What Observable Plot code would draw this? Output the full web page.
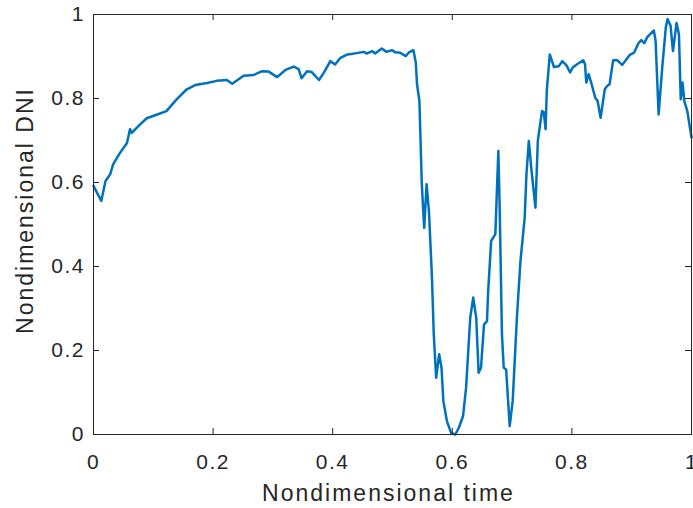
<!DOCTYPE html>
<html>
<head>
<meta charset="utf-8">
<script src="https://cdn.jsdelivr.net/npm/d3@7"></script>
<script src="https://cdn.jsdelivr.net/npm/@observablehq/plot@0.6"></script>
<style>
  html, body { margin: 0; padding: 0; background: #fff; }
  svg { display: block; font-family: "Liberation Sans", Arial, sans-serif; }
  svg g[aria-label="x-axis tick label"] text,
  svg g[aria-label="y-axis tick label"] text { letter-spacing: 1.5px; }
  svg g.axis-title text { letter-spacing: 2px; }
</style>
</head>
<body>
<div id="chart"></div>
<script>
const timeValues = [
  0.000, 0.013, 0.020, 0.028, 0.033, 0.044, 0.056, 0.061, 0.064, 0.075,
  0.089, 0.103, 0.122, 0.139, 0.156, 0.170, 0.190, 0.206, 0.223, 0.232,
  0.251, 0.268, 0.282, 0.293, 0.307, 0.321, 0.335, 0.343, 0.348, 0.357,
  0.365, 0.377, 0.385, 0.396, 0.404, 0.413, 0.423, 0.440, 0.452, 0.457,
  0.466, 0.471, 0.482, 0.490, 0.499, 0.505, 0.513, 0.522, 0.527, 0.535,
  0.539, 0.541, 0.545, 0.549, 0.553, 0.557, 0.561, 0.566, 0.569, 0.573,
  0.578, 0.582, 0.585, 0.591, 0.598, 0.605, 0.611, 0.618, 0.623, 0.630,
  0.635, 0.640, 0.644, 0.648, 0.653, 0.658, 0.660, 0.665, 0.672, 0.677,
  0.679, 0.683, 0.686, 0.690, 0.696, 0.701, 0.708, 0.714, 0.721, 0.724,
  0.728, 0.732, 0.739, 0.743, 0.750, 0.753, 0.756, 0.758, 0.763, 0.770,
  0.778, 0.784, 0.791, 0.797, 0.801, 0.808, 0.819, 0.822, 0.824, 0.828,
  0.833, 0.839, 0.843, 0.848, 0.855, 0.859, 0.863, 0.869, 0.876, 0.884,
  0.891, 0.897, 0.904, 0.911, 0.916, 0.921, 0.926, 0.937, 0.940, 0.945,
  0.951, 0.957, 0.960, 0.965, 0.969, 0.975, 0.979, 0.982, 0.985, 0.988,
  0.993, 1.000
];
const dniValues = [
  0.592, 0.556, 0.603, 0.620, 0.644, 0.670, 0.694, 0.727, 0.718, 0.734,
  0.753, 0.760, 0.770, 0.798, 0.822, 0.832, 0.837, 0.842, 0.844, 0.835,
  0.854, 0.856, 0.865, 0.864, 0.851, 0.868, 0.876, 0.870, 0.848, 0.865,
  0.863, 0.844, 0.861, 0.889, 0.881, 0.897, 0.904, 0.908, 0.911, 0.907,
  0.913, 0.907, 0.919, 0.911, 0.915, 0.910, 0.909, 0.901, 0.909, 0.915,
  0.885, 0.834, 0.794, 0.596, 0.492, 0.596, 0.530, 0.373, 0.239, 0.135,
  0.191, 0.159, 0.080, 0.032, 0.004, 0.000, 0.016, 0.044, 0.111, 0.278,
  0.326, 0.278, 0.147, 0.159, 0.262, 0.270, 0.342, 0.461, 0.477, 0.675,
  0.556, 0.239, 0.159, 0.155, 0.020, 0.080, 0.278, 0.413, 0.516, 0.620,
  0.699, 0.635, 0.540, 0.699, 0.770, 0.767, 0.727, 0.818, 0.905, 0.875,
  0.877, 0.889, 0.879, 0.862, 0.873, 0.881, 0.891, 0.881, 0.838, 0.858,
  0.834, 0.802, 0.794, 0.754, 0.822, 0.830, 0.834, 0.891, 0.891, 0.880,
  0.893, 0.904, 0.909, 0.931, 0.939, 0.932, 0.946, 0.962, 0.937, 0.762,
  0.873, 0.969, 0.989, 0.973, 0.913, 0.980, 0.953, 0.798, 0.838, 0.794,
  0.770, 0.707
];
const xTicks = [0, 0.2, 0.4, 0.6, 0.8, 1];
const xTickLabels = ["0", "0.2", "0.4", "0.6", "0.8", "1"];
const yTicks = [0, 0.2, 0.4, 0.6, 0.8, 1];
const yTickLabels = ["0", "0.2", "0.4", "0.6", "0.8", "1"];
const xTitle = "Nondimensional time";
const yTitle = "Nondimensional DNI";

const data = timeValues.map((t, i) => ({t, v: dniValues[i]}));

const W = 693, H = 508;
const mL = 93, mR = 2, mT = 14, mB = 74;
const innerW = W - mL - mR, innerH = H - mT - mB;
const tickLen = 6;
const axisColor = "#262626";

const chart = Plot.plot({
  width: W,
  height: H,
  marginLeft: mL,
  marginRight: mR,
  marginTop: mT,
  marginBottom: mB,
  style: {background: "#fff", color: axisColor, fontFamily: '"Liberation Sans", Arial, sans-serif'},
  x: {domain: [0, 1]},
  y: {domain: [0, 1]},
  marks: [
    Plot.line(data, {x: "t", y: "v", stroke: "#0072BD", strokeWidth: 2.5, strokeLinejoin: "round"}),
    Plot.frame({stroke: axisColor, strokeWidth: 1}),
    // inward ticks on all four sides
    Plot.tickX(xTicks, {x: d => d, stroke: axisColor, insetTop: innerH - tickLen}),
    Plot.tickX(xTicks, {x: d => d, stroke: axisColor, insetBottom: innerH - tickLen}),
    Plot.tickY(yTicks, {y: d => d, stroke: axisColor, insetRight: innerW - tickLen}),
    Plot.tickY(yTicks, {y: d => d, stroke: axisColor, insetLeft: innerW - tickLen}),
    Plot.axisX({
      ticks: xTicks,
      tickFormat: d => xTickLabels[xTicks.indexOf(d)],
      tickSize: 0,
      tickPadding: 19.5,
      fontSize: 21,
      label: null,
      fill: axisColor
    }),
    Plot.axisY({
      ticks: yTicks,
      tickFormat: d => yTickLabels[yTicks.indexOf(d)],
      tickSize: 0,
      tickPadding: 8.5,
      fontSize: 21,
      label: null,
      fill: axisColor
    }),
    Plot.text([xTitle], {
      text: d => d,
      frameAnchor: "bottom",
      textAnchor: "middle",
      dx: -4,
      dy: 59,
      lineAnchor: "middle",
      fontSize: 23,
      fill: axisColor,
      className: "axis-title"
    }),
    Plot.text([yTitle], {
      text: d => d,
      frameAnchor: "left",
      textAnchor: "middle",
      dx: -67.5,
      dy: -14,
      rotate: -90,
      lineAnchor: "middle",
      fontSize: 23,
      fill: axisColor,
      className: "axis-title"
    })
  ]
});

document.getElementById("chart").appendChild(chart);
</script>
</body>
</html>
